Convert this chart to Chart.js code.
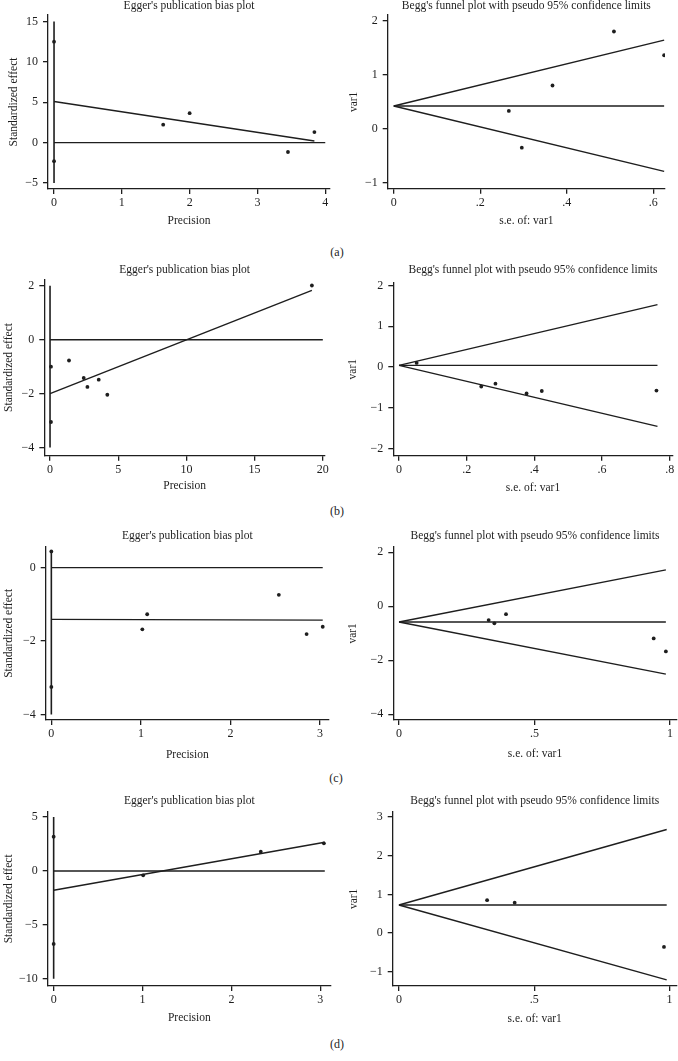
<!DOCTYPE html>
<html><head><meta charset="utf-8">
<script src="https://cdn.jsdelivr.net/npm/chart.js@4/dist/chart.umd.min.js"></script>
<style>
html,body{margin:0;padding:0;background:#fff;}
body{width:678px;height:1061px;position:relative;overflow:hidden;}
canvas{position:absolute;}
.lab{position:absolute;transform:translate(-50%,-50%);font:12px 'Liberation Serif',serif;color:#1e1e1e;line-height:14px;white-space:nowrap;}
</style></head>
<body>
<div class="lab" style="left:337px;top:251.5px">(a)</div>
<div class="lab" style="left:337px;top:511px">(b)</div>
<div class="lab" style="left:336px;top:778px">(c)</div>
<div class="lab" style="left:337px;top:1044px">(d)</div>
<script>
// ---------- DATA ----------
// Panel (a) Egger
const eggerA_precision = [0, 0, 1.61, 2.0, 3.45, 3.84];
const eggerA_effect    = [12.5, -2.3, 2.22, 3.65, -1.16, 1.31];
const eggerA_ci        = [-5, 15];
const eggerA_fitX      = [0, 3.84];
const eggerA_fitY      = [5.1, 0.2];
const eggerA_refX      = [0, 4];
const eggerA_xTicks    = [0, 1, 2, 3, 4];
const eggerA_yTicks    = [-5, 0, 5, 10, 15];
// Panel (a) Begg
const beggA_se         = [0.266, 0.296, 0.367, 0.509, 0.625];
const beggA_var1       = [0.33, -0.35, 0.80, 1.80, 1.36];
const beggA_limitX     = [0, 0.625];
const beggA_center     = [0.42, 0.42];
const beggA_upper      = [0.42, 1.64];
const beggA_lower      = [0.42, -0.79];
const beggA_xTicks     = [0, 0.2, 0.4, 0.6];
const beggA_xLabels    = ['0', '.2', '.4', '.6'];
const beggA_yTicks     = [-1, 0, 1, 2];
// Panel (b) Egger
const eggerB_precision = [0.07, 0.07, 1.39, 2.47, 2.74, 3.57, 4.2, 19.2];
const eggerB_effect    = [-1.0, -3.05, -0.77, -1.42, -1.75, -1.48, -2.04, 2.01];
const eggerB_ci        = [-4, 2];
const eggerB_fitX      = [0, 19.2];
const eggerB_fitY      = [-2.0, 1.83];
const eggerB_refX      = [0, 20];
const eggerB_xTicks    = [0, 5, 10, 15, 20];
const eggerB_yTicks    = [-4, -2, 0, 2];
// Panel (b) Begg
const beggB_se         = [0.052, 0.243, 0.285, 0.377, 0.422, 0.761];
const beggB_var1       = [0.1, -0.48, -0.41, -0.65, -0.59, -0.58];
const beggB_limitX     = [0, 0.764];
const beggB_center     = [0.04, 0.04];
const beggB_upper      = [0.04, 1.53];
const beggB_lower      = [0.04, -1.46];
const beggB_xTicks     = [0, 0.2, 0.4, 0.6, 0.8];
const beggB_xLabels    = ['0', '.2', '.4', '.6', '.8'];
const beggB_yTicks     = [-2, -1, 0, 1, 2];
// Panel (c) Egger
const eggerC_precision = [0, 0, 1.016, 1.07, 2.54, 2.85, 3.03];
const eggerC_effect    = [0.44, -3.25, -1.68, -1.27, -0.74, -1.81, -1.61];
const eggerC_ci        = [-4.0, 0.45];
const eggerC_fitX      = [0, 3.03];
const eggerC_fitY      = [-1.41, -1.43];
const eggerC_refX      = [0, 3.03];
const eggerC_xTicks    = [0, 1, 2, 3];
const eggerC_yTicks    = [-4, -2, 0];
// Panel (c) Begg
const beggC_se         = [0.331, 0.352, 0.395, 0.94, 0.985];
const beggC_var1       = [-0.51, -0.63, -0.29, -1.19, -1.67];
const beggC_limitX     = [0, 0.985];
const beggC_center     = [-0.58, -0.58];
const beggC_upper      = [-0.58, 1.35];
const beggC_lower      = [-0.58, -2.51];
const beggC_xTicks     = [0, 0.5, 1];
const beggC_xLabels    = ['0', '.5', '1'];
const beggC_yTicks     = [-4, -2, 0, 2];
// Panel (d) Egger
const eggerD_precision = [0, 0, 1.007, 2.33, 3.04];
const eggerD_effect    = [3.18, -6.77, -0.4, 1.79, 2.57];
const eggerD_ci        = [-10, 5];
const eggerD_fitX      = [0, 3.05];
const eggerD_fitY      = [-1.79, 2.66];
const eggerD_refX      = [0, 3.05];
const eggerD_xTicks    = [0, 1, 2, 3];
const eggerD_yTicks    = [-10, -5, 0, 5];
// Panel (d) Begg
const beggD_se         = [0.326, 0.428, 0.98];
const beggD_var1       = [0.85, 0.785, -0.36];
const beggD_limitX     = [0, 0.99];
const beggD_center     = [0.725, 0.725];
const beggD_upper      = [0.725, 2.68];
const beggD_lower      = [0.725, -1.21];
const beggD_xTicks     = [0, 0.5, 1];
const beggD_xLabels    = ['0', '.5', '1'];
const beggD_yTicks     = [-1, 0, 1, 2, 3];

const EGGER_TITLE = "Egger's publication bias plot";
const BEGG_TITLE = "Begg's funnel plot with pseudo 95% confidence limits";

// ---------- STYLE / BUILD ----------
const FONT = "'Liberation Serif','DejaVu Serif',serif";
const INK = '#1e1e1e';
const fmtNum = v => (v < 0 ? '\u2212' + String(Math.abs(v)) : String(v));
const pts = (xs, ys) => xs.map((x, i) => ({x: x, y: ys[i]}));
const lineDs = (xs, ys, w) => ({data: pts(xs, ys), showLine: true, pointRadius: 0, borderColor: INK, borderWidth: w || 1.4, fill: false});
const dotDs = (xs, ys) => ({data: pts(xs, ys), showLine: false, pointRadius: 1.9, pointBackgroundColor: INK, pointBorderWidth: 0, borderColor: INK});

function makePanel(g, d) {
  const TF = 11.5, LH = TF * 1.2;
  const cx = Math.floor(g.yTitleX - LH / 2);
  const cy = Math.floor(g.titleY - LH / 2);
  const yTitlePad = g.yTitleX - LH / 2 - cx;
  const titlePadTop = g.titleY - LH / 2 - cy;
  const titlePadBottom = g.T - (g.titleY + LH / 2);
  const scaleBottom = g.xTitleY + LH / 2;
  const cw = Math.ceil(g.R - cx + 14);
  const ch = Math.ceil(scaleBottom - cy);
  const padRight = cw - (g.R - cx);
  const padBottom = ch - (scaleBottom - cy);
  const Wy = g.L - cx;
  const Hx = scaleBottom - g.B;
  const c = document.createElement('canvas');
  c.width = cw; c.height = ch;
  c.style.left = cx + 'px'; c.style.top = cy + 'px';
  c.style.width = cw + 'px'; c.style.height = ch + 'px';
  document.body.appendChild(c);
  const tickFont = {family: FONT, size: 12};
  const titleFont = {family: FONT, size: TF, weight: 'normal'};
  const axisCommon = {
    type: 'linear',
    grid: {display: true, drawOnChartArea: false, drawTicks: true, tickLength: 5, color: INK, lineWidth: 1.3},
    border: {display: true, color: INK, width: 1.3},
  };
  new Chart(c, {
    type: 'scatter',
    data: {datasets: d.datasets},
    options: {
      responsive: false, animation: false, devicePixelRatio: 1,
      layout: {padding: {left: 0, right: padRight, top: 0, bottom: padBottom}},
      plugins: {
        legend: {display: false}, tooltip: {enabled: false},
        title: {display: true, text: d.title, fullSize: false, color: INK, font: titleFont,
                padding: {top: titlePadTop, bottom: titlePadBottom}}
      },
      scales: {
        x: Object.assign({}, axisCommon, {
          min: g.xMin, max: g.xMax,
          afterBuildTicks: s => { s.ticks = d.xTicks.map(v => ({value: v})); },
          afterFit: s => { s.height = Hx; },
          ticks: {autoSkip: false, maxRotation: 0, padding: 2, color: INK, font: tickFont,
                  callback: (v, i) => d.xLabels ? d.xLabels[i] : fmtNum(d.xTicks[i])},
          title: {display: true, text: d.xTitle, color: INK, font: titleFont, padding: {top: 0, bottom: 0}}
        }),
        y: Object.assign({}, axisCommon, {
          min: g.yMin, max: g.yMax,
          afterBuildTicks: s => { s.ticks = d.yTicks.map(v => ({value: v})); },
          afterFit: s => { s.width = Wy; },
          ticks: {autoSkip: false, padding: 5, color: INK, font: tickFont,
                  callback: (v, i) => fmtNum(d.yTicks[i])},
          title: {display: true, text: d.yTitle, color: INK, font: titleFont, padding: {top: yTitlePad, bottom: 0}}
        })
      }
    }
  });
}

function eggerSets(px, ef, ci, fx, fy, rx) {
  return [lineDs([0, 0], ci, 1.6), lineDs(rx, [0, 0]), lineDs(fx, fy), dotDs(px, ef)];
}
function beggSets(se, v, lx, cen, up, lo) {
  return [lineDs(lx, up), lineDs(lx, lo), lineDs(lx, cen), dotDs(se, v)];
}

// (a)
makePanel({L: 48, T: 15, R: 330, B: 189, xMin: -0.089, xMax: 4.07, yMin: -5.74, yMax: 15.8, titleY: 5.6, xTitleY: 221, yTitleX: 14},
  {title: EGGER_TITLE, xTitle: 'Precision', yTitle: 'Standardized effect', xTicks: eggerA_xTicks, yTicks: eggerA_yTicks,
   datasets: eggerSets(eggerA_precision, eggerA_effect, eggerA_ci, eggerA_fitX, eggerA_fitY, eggerA_refX)});
makePanel({L: 387.7, T: 15, R: 665, B: 188.7, xMin: -0.014, xMax: 0.627, yMin: -1.11, yMax: 2.105, titleY: 5.5, xTitleY: 221, yTitleX: 354.4},
  {title: BEGG_TITLE, xTitle: 's.e. of: var1', yTitle: 'var1', xTicks: beggA_xTicks, xLabels: beggA_xLabels, yTicks: beggA_yTicks,
   datasets: beggSets(beggA_se, beggA_var1, beggA_limitX, beggA_center, beggA_upper, beggA_lower)});
// (b)
makePanel({L: 44.3, T: 279.3, R: 325, B: 455.7, xMin: -0.42, xMax: 20.16, yMin: -4.3, yMax: 2.24, titleY: 269.5, xTitleY: 486, yTitleX: 8.8},
  {title: EGGER_TITLE, xTitle: 'Precision', yTitle: 'Standardized effect', xTicks: eggerB_xTicks, yTicks: eggerB_yTicks,
   datasets: eggerSets(eggerB_precision, eggerB_effect, eggerB_ci, eggerB_fitX, eggerB_fitY, eggerB_refX)});
makePanel({L: 393.3, T: 282.7, R: 672.7, B: 455.7, xMin: -0.017, xMax: 0.809, yMin: -2.18, yMax: 2.07, titleY: 269.5, xTitleY: 488, yTitleX: 352.8},
  {title: BEGG_TITLE, xTitle: 's.e. of: var1', yTitle: 'var1', xTicks: beggB_xTicks, xLabels: beggB_xLabels, yTicks: beggB_yTicks,
   datasets: beggSets(beggB_se, beggB_var1, beggB_limitX, beggB_center, beggB_upper, beggB_lower)});
// (c)
makePanel({L: 45.7, T: 546.7, R: 329, B: 720, xMin: -0.063, xMax: 3.1, yMin: -4.15, yMax: 0.57, titleY: 536, xTitleY: 754.5, yTitleX: 8.8},
  {title: EGGER_TITLE, xTitle: 'Precision', yTitle: 'Standardized effect', xTicks: eggerC_xTicks, yTicks: eggerC_yTicks,
   datasets: eggerSets(eggerC_precision, eggerC_effect, eggerC_ci, eggerC_fitX, eggerC_fitY, eggerC_refX)});
makePanel({L: 393.3, T: 546.7, R: 676.7, B: 720, xMin: -0.021, xMax: 1.025, yMin: -4.21, yMax: 2.207, titleY: 536, xTitleY: 753.5, yTitleX: 353.4},
  {title: BEGG_TITLE, xTitle: 's.e. of: var1', yTitle: 'var1', xTicks: beggC_xTicks, xLabels: beggC_xLabels, yTicks: beggC_yTicks,
   datasets: beggSets(beggC_se, beggC_var1, beggC_limitX, beggC_center, beggC_upper, beggC_lower)});
// (d)
makePanel({L: 47.7, T: 811.7, R: 331, B: 986, xMin: -0.067, xMax: 3.12, yMin: -10.67, yMax: 5.5, titleY: 801, xTitleY: 1018.4, yTitleX: 8.8},
  {title: EGGER_TITLE, xTitle: 'Precision', yTitle: 'Standardized effect', xTicks: eggerD_xTicks, yTicks: eggerD_yTicks,
   datasets: eggerSets(eggerD_precision, eggerD_effect, eggerD_ci, eggerD_fitX, eggerD_fitY, eggerD_refX)});
makePanel({L: 392.7, T: 811.7, R: 676.7, B: 986, xMin: -0.023, xMax: 1.027, yMin: -1.37, yMax: 3.14, titleY: 801, xTitleY: 1019, yTitleX: 354.4},
  {title: BEGG_TITLE, xTitle: 's.e. of: var1', yTitle: 'var1', xTicks: beggD_xTicks, xLabels: beggD_xLabels, yTicks: beggD_yTicks,
   datasets: beggSets(beggD_se, beggD_var1, beggD_limitX, beggD_center, beggD_upper, beggD_lower)});
</script>
</body></html>
